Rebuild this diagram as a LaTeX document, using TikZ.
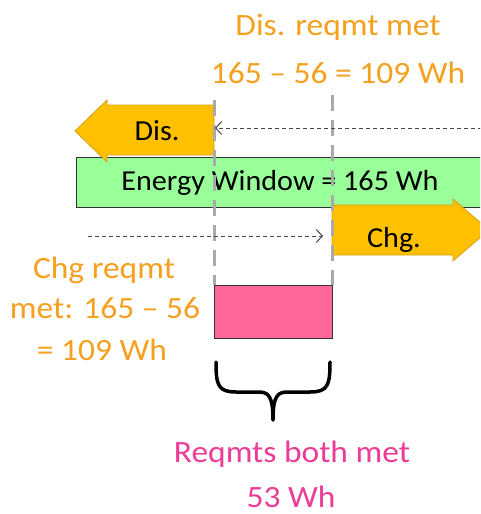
\documentclass[tikz,border=0pt]{standalone}
\usepackage{fontspec}
\setmainfont{Carlito}
\newfontfamily\widefont[FakeStretch=1.08]{Carlito}
\newfontfamily\midfont[FakeStretch=1.04]{Carlito}
\usetikzlibrary{arrows.meta}
\definecolor{reqorange}{RGB}{245,160,30}
\definecolor{arrowfill}{RGB}{255,192,0}
\definecolor{arrowedge}{RGB}{215,160,20}
\definecolor{winfill}{RGB}{153,255,153}
\definecolor{boxpink}{RGB}{255,102,153}
\definecolor{txtpink}{RGB}{236,60,150}
\definecolor{guide}{RGB}{170,170,170}
\definecolor{dashline}{RGB}{70,70,70}
\tikzset{
  lbl/.style={anchor=base, inner sep=0pt, text depth=0pt, font=\midfont\fontsize{29}{29}\selectfont},
  big/.style={anchor=base, inner sep=0pt, text depth=0pt, font=\widefont\fontsize{31}{31}\selectfont},
  req/.style={big, text=reqorange},
  both/.style={big, text=txtpink},
  bigarrow/.style={fill=arrowfill, draw=arrowedge, line width=0.8pt},
  guideline/.style={draw=guide, line width=3pt, dash pattern=on 16pt off 9pt},
  flow/.style={draw=dashline, line width=1pt, dash pattern=on 4pt off 3pt,
    -{Straight Barb[length=6pt,width=13pt,line width=1pt]}},
}
\begin{document}
\begin{tikzpicture}[x=1pt,y=-1pt]
\useasboundingbox (0,0) rectangle (480,514);
\clip (0,0) rectangle (480,514);
\fill[white] (0,0) rectangle (480,514);
% energy window
\draw[fill=winfill, draw=black!80, line width=1pt] (76,157) rectangle (500,207);
\node[lbl] (win) at (280,190) {Energy Window = 165 Wh};
% Dis arrow
\draw[bigarrow] (214,105) -- (107,105) -- (107,100) -- (75,131) -- (107,162) -- (107,155) -- (214,155) -- cycle;
\node[lbl] (dis) at (157,140) {Dis.};
% Chg arrow
\draw[bigarrow] (332,205) -- (453,205) -- (453,199) -- (489,230) -- (453,261) -- (453,255) -- (332,255) -- cycle;
\node[lbl] (chg) at (394,247) {Chg.};
% guide lines
\coordinate (gl1) at (214,100);
\coordinate (gl2) at (214,285);
\coordinate (gr1) at (332,95);
\coordinate (gr2) at (332,285);
\draw[guideline] (gl1) -- (gl2);
\draw[guideline] (gr1) -- (gr2);
% flow arrows
\coordinate (fa) at (482,128);
\coordinate (fb) at (215,128);
\coordinate (fc) at (88,236);
\coordinate (fd) at (323,236);
\draw[flow] (fa) -- (fb);
\draw[flow] (fc) -- (fd);
% pink box
\draw[fill=boxpink, draw=black!80, line width=1pt] (214,285) rectangle (332,338);
% brace
\draw[line width=3.5pt, line cap=round, line join=round]
  (216,362) .. controls (216,385) and (218,392) .. (236,392) -- (258,392)
  .. controls (268,392) and (273,395) .. (273,420)
  .. controls (273,395) and (278,392) .. (288,392) -- (310,392)
  .. controls (328,392) and (330,385) .. (330,362);
% texts
\node[req] (t1) at (338,35) {Dis. reqmt met};
\node[req] (t2) at (338,83) {165 – 56 = 109 Wh};
\node[req] (c1) at (104,278) {Chg reqmt};
\node[req] (c2) at (105,318) {met: 165 – 56};
\node[req] (c3) at (102,360) {= 109 Wh};
\node[both] (b1) at (292,462) {Reqmts both met};
\node[both] (b2) at (291,507) {53 Wh};
\end{tikzpicture}
\end{document}
